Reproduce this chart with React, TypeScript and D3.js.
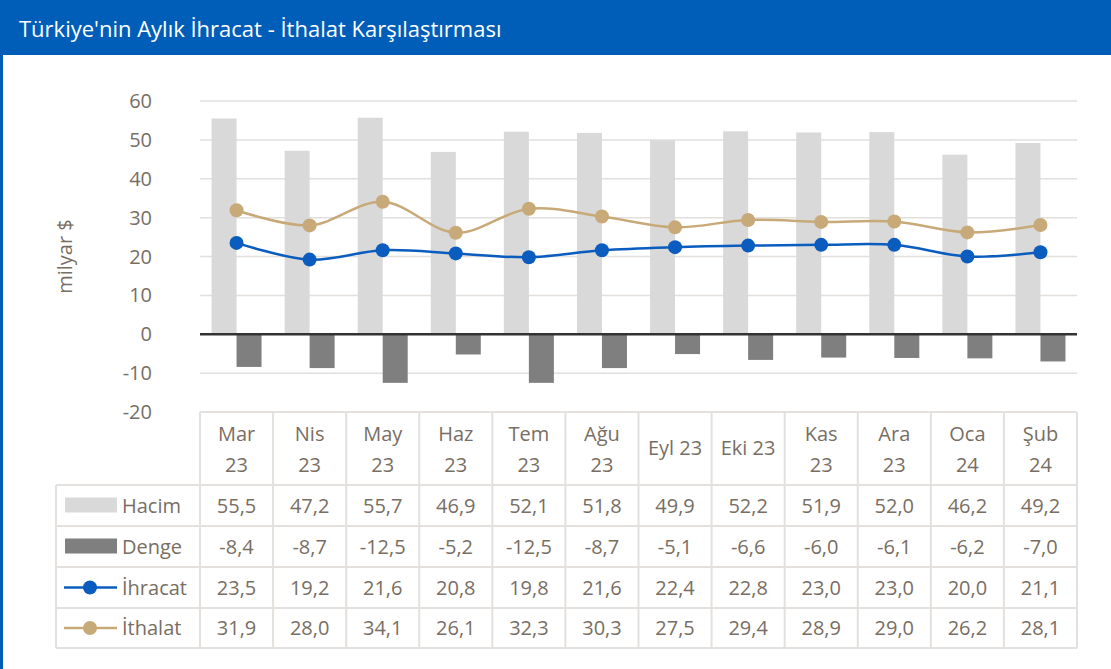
import React, { useEffect, useRef } from "react";
import * as d3 from "d3";

// chart data
const months = ["Mar 23", "Nis 23", "May 23", "Haz 23", "Tem 23", "Ağu 23", "Eyl 23", "Eki 23", "Kas 23", "Ara 23", "Oca 24", "Şub 24"];
const headerLines = [["Mar", "23"], ["Nis", "23"], ["May", "23"], ["Haz", "23"], ["Tem", "23"], ["Ağu", "23"], ["Eyl 23"], ["Eki 23"], ["Kas", "23"], ["Ara", "23"], ["Oca", "24"], ["Şub", "24"]];
const hacim = [55.5, 47.2, 55.7, 46.9, 52.1, 51.8, 49.9, 52.2, 51.9, 52.0, 46.2, 49.2];
const denge = [-8.4, -8.7, -12.5, -5.2, -12.5, -8.7, -5.1, -6.6, -6.0, -6.1, -6.2, -7.0];
const ihracat = [23.5, 19.2, 21.6, 20.8, 19.8, 21.6, 22.4, 22.8, 23.0, 23.0, 20.0, 21.1];
const ithalat = [31.9, 28.0, 34.1, 26.1, 32.3, 30.3, 27.5, 29.4, 28.9, 29.0, 26.2, 28.1];
const yTicks = [60, 50, 40, 30, 20, 10, 0, -10, -20];

const title = "Türkiye'nin Aylık İhracat - İthalat Karşılaştırması";
const FONT = "'Open Sans', 'Noto Sans', sans-serif";
const TEXT = "#786e64";
const HEAD = "#005eb8";
const BLUE = "#0a5cbe";
const TAN = "#c8a978";

export default function App() {
  const ref = useRef<SVGSVGElement | null>(null);

  useEffect(() => {
    const width = 1111;
    const height = 669;
    const svg = d3.select(ref.current);
    svg.selectAll("*").remove();

    // frame + header
    svg.append("rect").attr("x", 0).attr("y", 0).attr("width", width).attr("height", height).attr("fill", "#fff");
    svg.append("rect").attr("x", 0).attr("y", 0).attr("width", 3).attr("height", height).attr("fill", HEAD);
    svg.append("rect").attr("x", 0).attr("y", 0).attr("width", width).attr("height", 55).attr("fill", HEAD);
    svg.append("text").attr("x", 19).attr("y", 37).attr("fill", "#fff")
      .attr("font-family", FONT).attr("font-size", 22).text(title);

    const left = 200, right = 1077;
    const x = d3.scaleBand().domain(months).range([left, right]).paddingInner(0).paddingOuter(0);
    const y = d3.scaleLinear().domain([-20, 60]).range([412, 101]);
    const bw = 25;

    // grid
    svg.append("g").selectAll("line").data(yTicks.filter((t) => t !== 0)).join("line")
      .attr("x1", left).attr("x2", right)
      .attr("y1", (d) => y(d)).attr("y2", (d) => y(d))
      .attr("stroke", "#e2dfdc").attr("stroke-width", 1.5);

    svg.append("g").selectAll("text").data(yTicks).join("text")
      .attr("x", 152).attr("y", (d) => y(d)).attr("dy", "0.35em")
      .attr("text-anchor", "end").attr("fill", TEXT)
      .attr("font-family", FONT).attr("font-size", 20).text((d) => d);

    svg.append("text").attr("transform", `translate(72,${y(20)}) rotate(-90)`)
      .attr("text-anchor", "middle").attr("fill", TEXT)
      .attr("font-family", FONT).attr("font-size", 20).text("milyar $");

    // bars
    svg.append("g").selectAll("rect").data(hacim).join("rect")
      .attr("x", (d, i) => x(months[i])! + x.bandwidth() / 2 - bw)
      .attr("y", (d) => y(d)).attr("width", bw).attr("height", (d) => y(0) - y(d))
      .attr("fill", "#d9d9d9");
    svg.append("g").selectAll("rect").data(denge).join("rect")
      .attr("x", (d, i) => x(months[i])! + x.bandwidth() / 2)
      .attr("y", y(0)).attr("width", bw).attr("height", (d) => y(d) - y(0))
      .attr("fill", "#7f7f7f");

    svg.append("line").attr("x1", left).attr("x2", right).attr("y1", y(0)).attr("y2", y(0))
      .attr("stroke", "#333").attr("stroke-width", 2.5);

    // lines
    const cx = (i: number) => x(months[i])! + x.bandwidth() / 2;
    const lineGen = d3.line<number>().x((d, i) => cx(i)).y((d) => y(d)).curve(d3.curveCatmullRom.alpha(0.5));
    [[ithalat, TAN], [ihracat, BLUE]].forEach(([vals, col]) => {
      const v = vals as number[];
      svg.append("path").attr("d", lineGen(v)).attr("fill", "none")
        .attr("stroke", col as string).attr("stroke-width", 2.5);
      svg.append("g").selectAll("circle").data(v).join("circle")
        .attr("cx", (d, i) => cx(i)).attr("cy", (d) => y(d)).attr("r", 7)
        .attr("fill", col as string);
    });

    // data table
    const rowY = [412, 485, 526, 567, 608, 648];
    const tableLeft = 56;
    const border = "#e3e0dd";
    const tg = svg.append("g");
    tg.selectAll("line.h").data(rowY).join("line").attr("class", "h")
      .attr("x1", (d, i) => (i === 0 ? left : tableLeft)).attr("x2", right)
      .attr("y1", (d) => d).attr("y2", (d) => d)
      .attr("stroke", border).attr("stroke-width", 2);
    const vx = months.map((m) => x(m)!).concat([right]);
    tg.selectAll("line.v").data(vx).join("line").attr("class", "v")
      .attr("x1", (d) => d).attr("x2", (d) => d).attr("y1", rowY[0]).attr("y2", rowY[5])
      .attr("stroke", border).attr("stroke-width", 2);
    tg.append("line").attr("x1", tableLeft).attr("x2", tableLeft).attr("y1", rowY[1]).attr("y2", rowY[5])
      .attr("stroke", border).attr("stroke-width", 2);

    // header cells
    headerLines.forEach((lines, i) => {
      const t = tg.append("text").attr("text-anchor", "middle").attr("fill", TEXT)
        .attr("font-family", FONT).attr("font-size", 20);
      if (lines.length === 2) {
        t.append("tspan").attr("x", cx(i)).attr("y", 441).text(lines[0]);
        t.append("tspan").attr("x", cx(i)).attr("y", 472).text(lines[1]);
      } else {
        t.append("tspan").attr("x", cx(i)).attr("y", 455).text(lines[0]);
      }
    });

    const fmt = (v: number) => v.toFixed(1).replace(".", ",");
    const rows = [
      { name: "Hacim", vals: hacim, kind: "bar", color: "#d9d9d9" },
      { name: "Denge", vals: denge, kind: "bar", color: "#7f7f7f" },
      { name: "İhracat", vals: ihracat, kind: "line", color: BLUE },
      { name: "İthalat", vals: ithalat, kind: "line", color: TAN },
    ];
    rows.forEach((r, ri) => {
      const mid = (rowY[ri + 1] + rowY[ri + 2]) / 2;
      if (r.kind === "bar") {
        tg.append("rect").attr("x", 65).attr("y", mid - 8).attr("width", 52).attr("height", 15).attr("fill", r.color);
      } else {
        tg.append("line").attr("x1", 64).attr("x2", 117).attr("y1", mid).attr("y2", mid)
          .attr("stroke", r.color).attr("stroke-width", 2.5);
        tg.append("circle").attr("cx", 90).attr("cy", mid).attr("r", 7).attr("fill", r.color);
      }
      tg.append("text").attr("x", 122).attr("y", mid).attr("dy", "0.35em").attr("fill", TEXT)
        .attr("font-family", FONT).attr("font-size", 20).text(r.name);
      tg.append("g").selectAll("text").data(r.vals).join("text")
        .attr("x", (d, i) => cx(i)).attr("y", mid).attr("dy", "0.35em")
        .attr("text-anchor", "middle").attr("fill", TEXT)
        .attr("font-family", FONT).attr("font-size", 20).text((d) => fmt(d));
    });
  }, []);

  return (
    <div>
      <svg ref={ref} width={1111} height={669} style={{ position: "absolute", left: 0, top: 0 }} />
    </div>
  );
}
